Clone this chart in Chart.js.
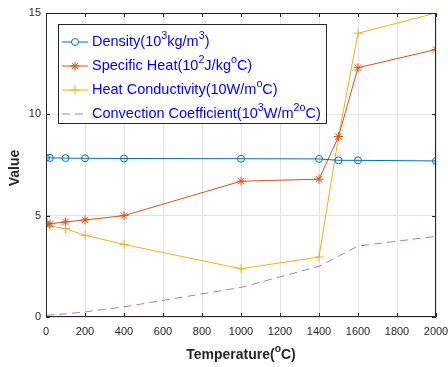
<!DOCTYPE html>
<html>
<head>
<meta charset="utf-8">
<script src="https://cdn.jsdelivr.net/npm/chart.js@4"></script>
<style>
  html, body { margin: 0; padding: 0; background: #fff; }
</style>
</head>
<body>
<canvas id="myChart" width="448" height="367"></canvas>
<script>
// temperatures (deg C) and the four property curves
var temps = [0, 20, 100, 200, 400, 1000, 1400, 1500, 1600, 2000];
var density = [7.85, 7.85, 7.84, 7.83, 7.82, 7.81, 7.8, 7.73, 7.73, 7.7];
var specificHeat = [4.57, 4.6, 4.69, 4.79, 5.0, 6.7, 6.8, 8.9, 12.3, 13.2];
var heatConductivity = [5.0, 4.49, 4.36, 4.03, 3.58, 2.38, 2.96, 8.9, 14.0, 15.0];
var convection = [0.08, 0.1, 0.15, 0.25, 0.5, 1.46, 2.5, 3.0, 3.5, 3.98];

var seriesNames = [
  'Density(10^3kg/m^3)',
  'Specific Heat(10^2J/kg^oC)',
  'Heat Conductivity(10W/m^oC)',
  'Convection Coefficient(10^3W/m^{2o}C)'
];
var xTitle = 'Temperature(^oC)';
var yTitle = 'Value';
var xTicks = [0, 200, 400, 600, 800, 1000, 1200, 1400, 1600, 1800, 2000];
var yTicks = [0, 5, 10, 15];

function toPoints(ys) {
  return temps.map(function (t, i) { return { x: t, y: ys[i] }; });
}

// split "abc^2def^{xy}" into normal / superscript pieces
function parseRich(str) {
  var parts = [], cur = '', i = 0;
  while (i < str.length) {
    var c = str[i];
    if (c === '^') {
      if (cur) parts.push({ t: cur, sup: false });
      cur = '';
      if (str[i + 1] === '{') {
        var end = str.indexOf('}', i);
        parts.push({ t: str.slice(i + 2, end), sup: true });
        i = end + 1;
      } else {
        parts.push({ t: str[i + 1], sup: true });
        i += 2;
      }
    } else {
      cur += c;
      i++;
    }
  }
  if (cur) parts.push({ t: cur, sup: false });
  return parts;
}

function richWidth(ctx, str, size, bold) {
  var w = 0;
  parseRich(str).forEach(function (p) {
    var s = p.sup ? size * 0.74 : size;
    ctx.font = (bold ? 'bold ' : '') + s + 'px Arial, "Liberation Sans", sans-serif';
    w += ctx.measureText(p.t).width;
  });
  return w;
}

function drawRich(ctx, str, x, y, size, bold, color) {
  ctx.fillStyle = color;
  ctx.textBaseline = 'middle';
  ctx.textAlign = 'left';
  parseRich(str).forEach(function (p) {
    var s = p.sup ? size * 0.74 : size;
    ctx.font = (bold ? 'bold ' : '') + s + 'px Arial, "Liberation Sans", sans-serif';
    ctx.fillText(p.t, x, p.sup ? y - size * 0.42 : y);
    x += ctx.measureText(p.t).width;
  });
}

var colors = ['#0072BD', '#D95319', '#EDB120', '#A97CC0'];
var styles = ['circle', 'star', 'cross', false];

var matlabLook = {
  id: 'matlabLook',
  afterDraw: function (chart) {
    var ctx = chart.ctx, a = chart.chartArea;
    var xs = chart.scales.x, ys = chart.scales.y;
    ctx.save();
    // box + inward ticks
    ctx.strokeStyle = '#262626';
    ctx.lineWidth = 1;
    ctx.beginPath();
    ctx.rect(a.left + 0.5, a.top + 0.5, a.right - a.left - 1, a.bottom - a.top - 1);
    xTicks.forEach(function (v) {
      var px = Math.round(xs.getPixelForValue(v)) + 0.5;
      ctx.moveTo(px, a.bottom); ctx.lineTo(px, a.bottom - 4);
      ctx.moveTo(px, a.top); ctx.lineTo(px, a.top + 4);
    });
    yTicks.forEach(function (v) {
      var py = Math.round(ys.getPixelForValue(v)) + 0.5;
      ctx.moveTo(a.left, py); ctx.lineTo(a.left + 4, py);
      ctx.moveTo(a.right, py); ctx.lineTo(a.right - 4, py);
    });
    ctx.stroke();

    // axis titles
    var w = richWidth(ctx, xTitle, 14, true);
    drawRich(ctx, xTitle, (a.left + a.right) / 2 - w / 2, 355, 14, true, '#262626');
    ctx.save();
    ctx.translate(15, (a.top + a.bottom) / 2 + 3);
    ctx.rotate(-Math.PI / 2);
    w = richWidth(ctx, yTitle, 14, true);
    drawRich(ctx, yTitle, -w / 2, 0, 14, true, '#262626');
    ctx.restore();

    // legend
    var bx = a.left + 12, by = a.top + 11, bw = 268, bh = 99;
    ctx.fillStyle = '#fff';
    ctx.fillRect(bx, by, bw, bh);
    ctx.strokeStyle = '#262626';
    ctx.strokeRect(bx + 0.5, by + 0.5, bw, bh);
    chart.data.datasets.forEach(function (ds, i) {
      var cy = by + 18 + i * 24;
      ctx.strokeStyle = ds.borderColor;
      ctx.lineWidth = 1;
      ctx.setLineDash(ds.borderDash || []);
      ctx.beginPath();
      ctx.moveTo(bx + 4, cy); ctx.lineTo(bx + 30, cy);
      ctx.stroke();
      ctx.setLineDash([]);
      if (ds.pointStyle) {
        Chart.helpers.drawPoint(ctx, {
          pointStyle: ds.pointStyle, radius: ds.pointRadius, borderWidth: 1
        }, bx + 17, cy);
      }
      drawRich(ctx, seriesNames[i], bx + 34, cy, 14.5, false, '#0000FF');
    });
    ctx.restore();
  }
};

var datasets = [density, specificHeat, heatConductivity, convection].map(function (ys, i) {
  return {
    label: seriesNames[i],
    data: toPoints(ys),
    borderColor: colors[i],
    backgroundColor: i === 0 ? 'rgba(0,0,0,0)' : colors[i],
    borderWidth: 1,
    borderDash: i === 3 ? [8, 5] : [],
    pointStyle: styles[i],
    pointRadius: styles[i] ? (i === 0 ? 3.5 : 4.5) : 0,
    pointBorderWidth: 1,
    tension: 0
  };
});

var ctx = document.getElementById('myChart').getContext('2d');
var myChart = new Chart(ctx, {
  type: 'line',
  data: { datasets: datasets },
  options: {
    responsive: false,
    animation: false,
    layout: { padding: { top: 13, right: 12, left: 0, bottom: 0 } },
    plugins: { legend: { display: false }, tooltip: { enabled: false } },
    scales: {
      x: {
        type: 'linear', min: 0, max: 2000,
        afterFit: function (s) { s.height = 50; s.paddingLeft = 0; s.paddingRight = 0; },
        afterBuildTicks: function (s) { s.ticks = xTicks.map(function (v) { return { value: v }; }); },
        grid: { color: '#e3e3e3', drawTicks: false },
        border: { display: false },
        ticks: {
          padding: 8, color: '#262626', font: { family: 'Arial', size: 11 }, maxRotation: 0,
          callback: function (v) { return String(v); }
        }
      },
      y: {
        min: 0, max: 15,
        afterFit: function (s) { s.width = 46; s.paddingTop = 0; s.paddingBottom = 0; },
        afterBuildTicks: function (s) { s.ticks = yTicks.map(function (v) { return { value: v }; }); },
        grid: { color: '#e3e3e3', drawTicks: false },
        border: { display: false },
        ticks: {
          padding: 5, color: '#262626', font: { family: 'Arial', size: 11 },
          callback: function (v) { return String(v); }
        }
      }
    }
  },
  plugins: [matlabLook]
});
</script>
</body>
</html>
